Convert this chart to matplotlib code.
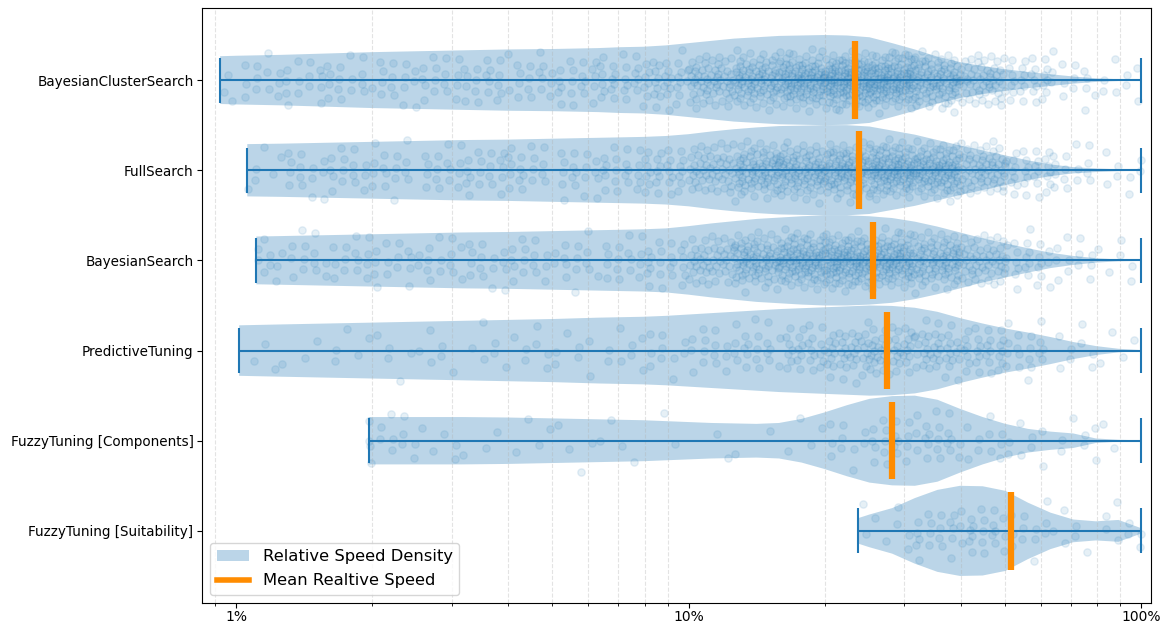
"""
Relative speed of tuning strategies: log-scale violins with jittered samples and mean bars.
"""
import matplotlib
matplotlib.use("Agg")
import matplotlib.pyplot as plt
import numpy as np
from matplotlib.lines import Line2D
from matplotlib.patches import Patch
from matplotlib.ticker import LogLocator, NullFormatter

# strategies, top to bottom
strategies = [
    "BayesianClusterSearch",
    "FullSearch",
    "BayesianSearch",
    "PredictiveTuning",
    "FuzzyTuning [Components]",
    "FuzzyTuning [Suitability]",
]

# mean relative speed (percent)
speed_mean = [23.3, 23.8, 25.6, 27.4, 28.2, 51.7]

# where the violin outlines were read: log10(speed / 100%)
coarse_grid = [-1.9, -1.8, -1.7, -1.6, -1.5, -1.4, -1.3]
fine_grid = [-1.2, -1.15, -1.1, -1.05, -1.0, -0.95, -0.9, -0.85, -0.8,
             -0.75, -0.7, -0.65, -0.6, -0.55, -0.5, -0.45, -0.4, -0.35,
             -0.3, -0.25, -0.2, -0.15, -0.1, -0.05, 0.0]

# relative half-width of each violin at those points
u_bcs = [-2.035, -2.0] + coarse_grid + fine_grid
w_bcs = [0.53, 0.54, 0.56, 0.59, 0.62, 0.64, 0.66, 0.68, 0.69,
         0.71, 0.73, 0.74, 0.77, 0.82, 0.87, 0.92, 0.95, 0.98, 0.99, 1.0,
         0.99, 0.95, 0.82, 0.68, 0.52, 0.40, 0.31, 0.24, 0.18, 0.13, 0.08,
         0.04, 0.02, 0.01]

u_full = [-1.975] + coarse_grid + fine_grid
w_full = [0.58, 0.59, 0.61, 0.63, 0.65, 0.67, 0.68, 0.70,
          0.72, 0.73, 0.74, 0.76, 0.80, 0.86, 0.91, 0.95, 0.98, 0.99, 1.0,
          1.0, 0.97, 0.88, 0.79, 0.67, 0.55, 0.44, 0.33, 0.22, 0.13, 0.07,
          0.04, 0.02, 0.01]

u_bayes = [-1.955] + coarse_grid + fine_grid
w_bayes = [0.53, 0.54, 0.56, 0.58, 0.60, 0.62, 0.63, 0.65,
           0.67, 0.68, 0.69, 0.71, 0.76, 0.82, 0.87, 0.92, 0.95, 0.98, 1.0,
           1.0, 0.98, 0.94, 0.86, 0.75, 0.62, 0.49, 0.38, 0.27, 0.17, 0.10,
           0.05, 0.02, 0.01]

u_pred = [-1.993] + coarse_grid + fine_grid
w_pred = [0.56, 0.58, 0.60, 0.62, 0.64, 0.66, 0.68, 0.70,
          0.73, 0.74, 0.75, 0.77, 0.80, 0.83, 0.86, 0.89, 0.92, 0.94, 0.96,
          0.98, 1.0, 0.99, 0.95, 0.86, 0.72, 0.60, 0.49, 0.40, 0.30, 0.19,
          0.10, 0.04, 0.01]

u_comp = [-1.707, -1.6, -1.5, -1.4, -1.3] + fine_grid
w_comp = [0.52, 0.52, 0.52, 0.51, 0.49,
          0.47, 0.46, 0.45, 0.43, 0.41, 0.39, 0.38, 0.37, 0.39, 0.48, 0.62,
          0.78, 0.92, 0.98, 0.99, 0.90, 0.70, 0.52, 0.37, 0.26, 0.20, 0.16,
          0.05, 0.02, 0.01]

u_suit = [-0.625, -0.6, -0.55, -0.5, -0.45, -0.4, -0.35, -0.3, -0.25,
          -0.2, -0.15, -0.1, -0.05, 0.0]
w_suit = [0.28, 0.36, 0.50, 0.72, 0.90, 0.99, 0.98, 0.88, 0.62,
          0.40, 0.25, 0.21, 0.24, 0.06]

# sample counts per 0.1-decade bin, bins from log10 = -2.1 up to 0
bin_edges = [-2.1, -2.0, -1.9, -1.8, -1.7, -1.6, -1.5, -1.4, -1.3, -1.2, -1.1,
             -1.0, -0.9, -0.8, -0.7, -0.6, -0.5, -0.4, -0.3, -0.2, -0.1, 0.0]
n_bcs = [3, 12, 14, 15, 16, 16, 18, 18, 20, 24, 35,
         60, 85, 110, 130, 125, 90, 55, 28, 14, 8]
n_full = [0, 6, 14, 15, 16, 16, 18, 18, 18, 20, 28,
          50, 80, 85, 95, 110, 100, 60, 30, 15, 8]
n_bayes = [0, 8, 14, 14, 14, 15, 15, 15, 15, 16, 22,
           45, 80, 100, 110, 105, 80, 50, 25, 12, 6]
n_pred = [0, 3, 3, 5, 5, 6, 6, 7, 7, 8, 10,
          14, 20, 28, 40, 42, 38, 28, 18, 8, 4]
n_comp = [0, 0, 0, 4, 10, 5, 3, 4, 4, 4, 2,
          2, 2, 4, 10, 18, 20, 10, 8, 7, 2]
n_suit = [0, 0, 0, 0, 0, 0, 0, 0, 0, 0, 0,
          0, 0, 0, 2, 6, 18, 22, 12, 6, 8]

outlines = [(u_bcs, w_bcs), (u_full, w_full), (u_bayes, w_bayes),
            (u_pred, w_pred), (u_comp, w_comp), (u_suit, w_suit)]
counts = [n_bcs, n_full, n_bayes, n_pred, n_comp, n_suit]

violin_color = "C0"
mean_color = "#ff8c00"


def spread(n, phase):
    # R2 low-discrepancy pairs: (position inside bin, vertical offset)
    k = np.arange(n) + 1
    a = (phase + k * 0.7548776662) % 1.0
    b = (0.5 + phase * 0.37 + k * 0.5698402910) % 1.0
    # triangular vertical spread around the centre line
    tri = np.where(b < 0.5, np.sqrt(2 * b) - 1, 1 - np.sqrt(2 * (1 - b)))
    return a, tri * 0.37


positions = np.arange(len(strategies), 0, -1)

fig, ax = plt.subplots(figsize=(11.7, 6.23), dpi=100)
fig.subplots_adjust(left=0.1726, right=0.9838, bottom=0.0321, top=0.9872)
ax.set_xscale("log")

stats = []
for (u, w), m in zip(outlines, speed_mean):
    coords = 100 * 10 ** np.asarray(u)
    stats.append(dict(coords=coords, vals=np.asarray(w), mean=m, median=m,
                      min=coords[0], max=coords[-1]))
ax.violin(stats, positions=positions, orientation="horizontal", widths=1.0,
          showmeans=False, showextrema=True, showmedians=False)

edges = np.asarray(bin_edges)
for i, (pos, cnt, (u, _)) in enumerate(zip(positions, counts, outlines)):
    xs, ys = [], []
    for j, c in enumerate(cnt):
        if c == 0:
            continue
        lo = max(edges[j], u[0])
        hi = edges[j + 1]
        fx, dy = spread(c, (0.31 * i + 0.17 * j) % 1.0)
        xs.append(lo + fx * (hi - lo))
        ys.append(pos + dy)
    xs = 100 * 10 ** np.concatenate(xs)
    ax.scatter(xs, np.concatenate(ys), s=28, color=violin_color, alpha=0.11)

ax.vlines(speed_mean, positions - 0.43, positions + 0.43, colors=mean_color,
          linewidth=4.5, zorder=4)

ax.set_xlim(0.841, 105.2)
ax.set_ylim(0.2, 6.8)
ax.set_xticks([1, 10, 100], labels=["1%", "10%", "100%"])
ax.xaxis.set_minor_locator(LogLocator(base=10, subs=np.arange(2, 10)))
ax.xaxis.set_minor_formatter(NullFormatter())
ax.tick_params(axis="x", which="major", pad=1.5)
ax.set_yticks(positions, labels=strategies)
ax.tick_params(axis="y", labelsize=9.75, pad=2.5)
ax.grid(True, which="minor", axis="x", linestyle="--", alpha=0.35)

handles = [Patch(facecolor=violin_color, alpha=0.3),
           Line2D([], [], color=mean_color, linewidth=4)]
ax.legend(handles, ["Relative Speed Density", "Mean Realtive Speed"],
          loc="lower left", fontsize=11.8, labelspacing=0.55)

fig.savefig("out.png", dpi=100)
